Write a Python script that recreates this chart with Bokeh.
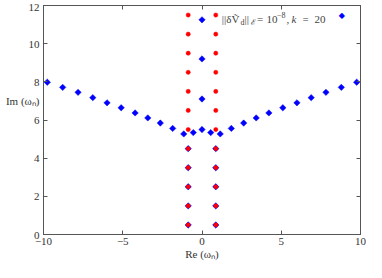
from bokeh.plotting import figure
from bokeh.models import LinearAxis, Label, Range1d, FixedTicker
from bokeh.embed import file_html
from bokeh.resources import INLINE

# ---- data ----
red_re = [-0.87] * 12 + [0.87] * 12
red_im = [0.5, 1.5, 2.5, 3.5, 4.5, 5.5, 6.5, 7.5, 8.5, 9.5, 10.5, 11.5] * 2

blue_re = [-9.76, -8.79, -7.82, -6.89, -5.99, -5.10, -4.22, -3.42, -2.63, -1.85, -1.15, -0.55,
           0.0,
           0.55, 1.15, 1.85, 2.63, 3.42, 4.22, 5.10, 5.99, 6.89, 7.82, 8.79, 9.76,
           0.0, 0.0, 0.0,
           -0.87, -0.87, -0.87, -0.87, -0.87, 0.87, 0.87, 0.87, 0.87, 0.87]
blue_im = [7.98, 7.71, 7.45, 7.17, 6.90, 6.64, 6.37, 6.11, 5.84, 5.56, 5.27, 5.34,
           5.50,
           5.34, 5.27, 5.56, 5.84, 6.11, 6.37, 6.64, 6.90, 7.17, 7.45, 7.71, 7.98,
           7.10, 9.20, 11.25,
           0.5, 1.5, 2.5, 3.5, 4.5, 0.5, 1.5, 2.5, 3.5, 4.5]

x_ticks = [-10, -5, 0, 5, 10]
y_ticks = [0, 2, 4, 6, 8, 10, 12]
x_tick_labels = {-10: "\u221210", -5: "\u22125", 0: "0", 5: "5", 10: "10"}
y_label_pos = 7
y_label_text = "Im (\u03c9\u2099)"

FONT = "Liberation Serif"
TXT = "#333333"
AX = "#555555"

p = figure(width=366, height=262, output_backend="svg", toolbar_location=None,
           x_range=Range1d(-10, 10), y_range=Range1d(0, 12), y_axis_location=None,
           min_border_left=43, min_border_right=6, min_border_top=5, min_border_bottom=24)
p.grid.visible = False
p.outline_line_color = AX
p.background_fill_color = "white"
p.border_fill_color = "white"

xa = p.xaxis[0]
xa.ticker = FixedTicker(ticks=x_ticks)
xa.major_label_overrides = x_tick_labels
xa.major_tick_in = 4
xa.major_tick_out = 0
xa.minor_tick_line_color = None
xa.axis_line_color = AX
xa.major_tick_line_color = AX
xa.major_label_text_font = FONT
xa.major_label_text_font_size = "11px"
xa.major_label_text_color = TXT
xa.major_label_standoff = 3
xa.axis_label = "Re (\u03c9\u2099)"
xa.axis_label_text_font = FONT
xa.axis_label_text_font_style = "normal"
xa.axis_label_text_font_size = "11px"
xa.axis_label_text_color = TXT
xa.axis_label_standoff = 0

# left: tick marks only (nearest frame), then labels (incl. the axis title at y=7)
left_ticks = LinearAxis(ticker=FixedTicker(ticks=y_ticks), major_tick_in=4, major_tick_out=0,
                        minor_tick_line_color=None, axis_line_color=AX, major_tick_line_color=AX,
                        major_label_standoff=0, major_label_text_font_size="1px",
                        major_label_overrides={t: "" for t in y_ticks})
label_map = {t: str(t) for t in y_ticks}
label_map[y_label_pos] = y_label_text
left_labels = LinearAxis(ticker=FixedTicker(ticks=sorted(y_ticks + [y_label_pos])),
                         major_tick_in=0, major_tick_out=0, minor_tick_line_color=None,
                         axis_line_color=None, major_tick_line_color=None,
                         major_label_standoff=4, major_label_text_font=FONT,
                         major_label_text_font_size="11px", major_label_text_color=TXT,
                         major_label_overrides=label_map)
p.add_layout(left_ticks, "left")
p.add_layout(left_labels, "left")

top = LinearAxis(ticker=FixedTicker(ticks=x_ticks), major_tick_in=4, major_tick_out=0,
                 minor_tick_line_color=None, axis_line_color=AX, major_tick_line_color=AX,
                 major_label_standoff=0, major_label_text_font_size="1px",
                 major_label_overrides={t: "" for t in x_ticks})
right = LinearAxis(ticker=FixedTicker(ticks=y_ticks), major_tick_in=4, major_tick_out=0,
                   minor_tick_line_color=None, axis_line_color=AX, major_tick_line_color=AX,
                   major_label_standoff=0, major_label_text_font_size="1px",
                   major_label_overrides={t: "" for t in y_ticks})
p.add_layout(top, "above")
p.add_layout(right, "right")

# data marks
p.scatter(blue_re, blue_im, marker="square", angle=0.785398, size=4.5,
          fill_color="#0000ff", line_color="#0000ff", line_width=0.5)
p.scatter(red_re, red_im, marker="circle", size=4.2,
          fill_color="#ff0000", line_color="#ff0000", line_width=0.5)

# legend (text then marker, top-right)
base = -13.5
pieces = [
    ("||\u03b4\u1e7c", -138.7, base, "11px", "normal"),
    ("d", -120.0, base - 3, "8px", "normal"),
    ("||", -116.0, base, "11px", "normal"),
    ("\u2130", -109.5, base - 3, "8px", "normal"),
    ("=", -103.5, base, "11px", "normal"),
    ("10", -94.0, base, "11px", "normal"),
    ("\u22128", -83.5, base + 4, "8px", "normal"),
    (",", -74.0, base, "11px", "normal"),
    ("k", -69.0, base, "11px", "italic"),
    ("=", -58.0, base, "11px", "normal"),
    ("20", -46.0, base, "11px", "normal"),
]
for txt, dx, dy, fs, st in pieces:
    p.add_layout(Label(x=10, y=12, x_offset=dx, y_offset=dy, text=txt, text_align="left",
                       text_baseline="alphabetic", text_font=FONT, text_font_size=fs,
                       text_font_style=st, text_color="#444444"))
p.add_layout(Label(x=10, y=12, x_offset=-18.7, y_offset=-10, text="\u25c6", text_align="center",
                   text_baseline="middle", text_font="DejaVu Sans", text_font_size="8px",
                   text_color="#0000ff"))

open("out.html", "w").write(file_html(p, INLINE))
